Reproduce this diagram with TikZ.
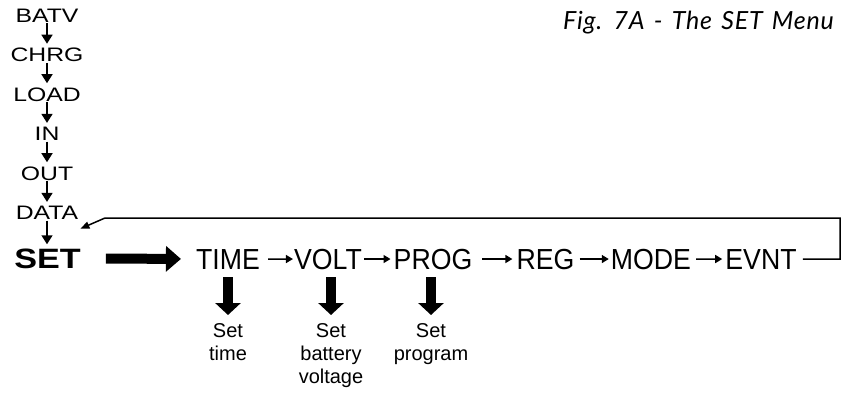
\documentclass[tikz,border=0pt]{standalone}
\usepackage{fontspec}
\setmainfont{Liberation Sans}
\newfontfamily\widesans[FakeStretch=1.27]{Liberation Sans}
\newfontfamily\setsans[FakeStretch=1.22]{Liberation Sans}
\newfontfamily\narrowsans[FakeStretch=0.92]{Liberation Sans}
\newfontfamily\figfont[LetterSpace=3,WordSpace=1.4]{Lato}
\usetikzlibrary{arrows.meta}

\begin{document}
\begin{tikzpicture}[x=1pt,y=-1pt,
  col/.style={inner sep=0pt,anchor=base,font=\widesans\fontsize{19.5}{19.5}\selectfont},
  menu/.style={inner sep=0pt,anchor=base,font=\narrowsans\fontsize{29}{29}\selectfont},
  sub/.style={inner sep=0pt,anchor=north,align=center,font=\fontsize{20}{23}\selectfont},
  colarr/.style={line width=1.5pt,-{Triangle[length=9pt,width=11pt]},shorten <=1pt,shorten >=4pt},
  rowarr/.style={line width=1.5pt,-{Triangle[length=7pt,width=8pt]}},
  fat/.style={line width=10pt,-{Triangle[length=15pt,width=25pt]}},
  drop/.style={line width=10pt,-{Triangle[length=12pt,width=25pt]},shorten <=8pt,shorten >=8pt},
  back/.style={line width=1.5pt,-{Triangle[length=9pt,width=7pt]}}]
  \useasboundingbox (0,0) rectangle (843,392);
  % title
  \node[inner sep=0pt,anchor=base east,font=\figfont\itshape\fontsize{25}{25}\selectfont] (fig) at (834,29) {Fig. 7A - The SET Menu};
  % left column
  \node[col] (batv) at (47,22) {BATV};
  \node[col] (chrg) at (47,61.5) {CHRG};
  \node[col] (load) at (47,101) {LOAD};
  \node[col] (in) at (47,140.5) {IN};
  \node[col] (out) at (47,180) {OUT};
  \node[col] (data) at (47,219.5) {DATA};
  \node[col,font=\setsans\bfseries\fontsize{28}{28}\selectfont] (set) at (47.5,268) {SET};
  \draw[colarr] (batv.south) -- (chrg.north);
  \draw[colarr] (chrg.south) -- (load.north);
  \draw[colarr] (load.south) -- (in.north);
  \draw[colarr] (in.south) -- (out.north);
  \draw[colarr] (out.south) -- (data.north);
  \draw[colarr] (data.south) -- (data.south |- set.north);
  % menu row
  \node[menu] (time) at (228,269) {TIME};
  \node[menu] (volt) at (328,269) {VOLT};
  \node[menu] (prog) at (433,269) {PROG};
  \node[menu] (reg) at (545.5,269) {REG};
  \node[menu] (mode) at (651,269) {MODE};
  \node[menu] (evnt) at (761,269) {EVNT};
  \draw[fat,shorten <=25pt,shorten >=15pt] (set.east) -- (time.west);
  \draw[rowarr,shorten <=8pt,shorten >=1pt] (time.east) -- (volt.west);
  \draw[rowarr,shorten <=2pt,shorten >=3pt] (volt.east) -- (prog.west);
  \draw[rowarr,shorten <=10pt,shorten >=4pt] (prog.east) -- (reg.west);
  \draw[rowarr,shorten <=5pt,shorten >=2pt] (reg.east) -- (mode.west);
  \draw[rowarr,shorten <=5pt,shorten >=3pt] (mode.east) -- (evnt.west);
  % back to DATA
  \coordinate (rt) at (840,218);
  \coordinate (lt) at (105,218);
  \draw[back,shorten <=6pt] (evnt.east) -- (evnt.east -| rt) -- (rt) -- (lt) -- ([shift={(2pt,-9pt)}]data.south east);
  % sub items
  \node[sub] (settime) at (228,323) {Set\\time};
  \node[sub] (setvolt) at (331,323) {Set\\battery\\voltage};
  \node[sub] (setprog) at (431,323) {Set\\program};
  \draw[drop] (time.south -| settime.north) -- (settime.north);
  \draw[drop] (volt.south -| setvolt.north) -- (setvolt.north);
  \draw[drop] (prog.south -| setprog.north) -- (setprog.north);
\end{tikzpicture}
\end{document}
